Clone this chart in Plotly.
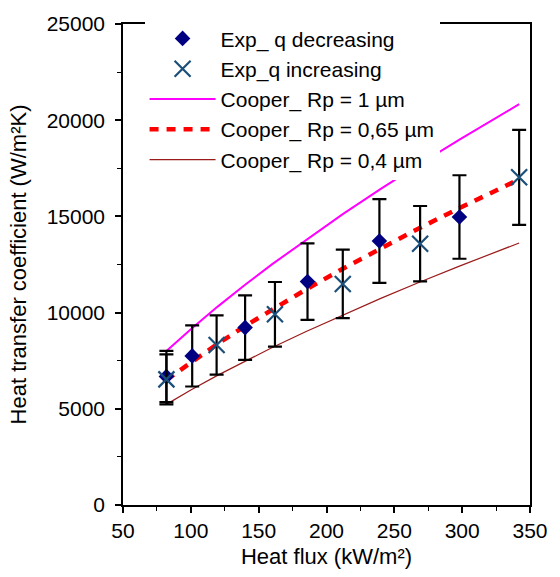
import plotly.graph_objects as go

# Experimental data: heat flux (kW/m²) and heat transfer coefficient (W/m²K)
dec_q = [82, 101, 140, 186, 239, 298]
dec_h = [6680, 7750, 9220, 11610, 13720, 14970]
dec_err = [1330, 1590, 1680, 1990, 2180, 2170]

inc_q = [82, 119, 162, 212, 269, 342]
inc_h = [6530, 8320, 9910, 11490, 13580, 17030]
inc_err = [1300, 1540, 1680, 1780, 1960, 2470]

# Cooper correlation curves
cooper_q = [82, 100, 120, 140, 160, 185, 212, 240, 268, 298, 342]
cooper_rp1 = [8000, 9140, 10325, 11450, 12520, 13790, 15120, 16430, 17690, 18990, 20830]
cooper_rp065 = [6500, 7423, 8389, 9302, 10172, 11206, 12282, 13348, 14373, 15431, 16926]
cooper_rp04 = [5230, 5973, 6750, 7484, 8184, 9017, 9883, 10740, 11565, 12416, 13619]

FONT = "Liberation Sans, Arial, sans-serif"

fig = go.Figure()

fig.add_trace(go.Scatter(
    x=cooper_q, y=cooper_rp1, mode="lines", name="Cooper_ Rp = 1 µm",
    line=dict(color="#FF00FF", width=2), legendrank=3))
fig.add_trace(go.Scatter(
    x=cooper_q, y=cooper_rp065, mode="lines", name="Cooper_ Rp = 0,65 µm",
    line=dict(color="#FF0000", width=4.5, dash="9px,8px"), legendrank=4))
fig.add_trace(go.Scatter(
    x=cooper_q, y=cooper_rp04, mode="lines", name="Cooper_ Rp = 0,4 µm",
    line=dict(color="#9B1B1B", width=1.2), legendrank=5))

fig.add_trace(go.Scatter(
    x=dec_q, y=dec_h, mode="markers", name="Exp_ q decreasing",
    marker=dict(symbol="diamond", size=12, color="#000080"),
    error_y=dict(type="data", array=dec_err, visible=True, color="black",
                 thickness=2.2, width=7),
    legendrank=1))
fig.add_trace(go.Scatter(
    x=inc_q, y=inc_h, mode="markers", name="Exp_q increasing",
    marker=dict(symbol="x-thin-open", size=16, color="#1B4F7A",
                line=dict(width=2.2, color="#1B4F7A")),
    error_y=dict(type="data", array=inc_err, visible=True, color="black",
                 thickness=2.2, width=7),
    legendrank=2))

axis_common = dict(
    showline=True, linecolor="black", linewidth=1.5, mirror=True,
    showgrid=False, zeroline=False, ticks="outside", ticklen=6,
    tickwidth=1.5, tickcolor="black", tickformat="d",
    tickfont=dict(family=FONT, size=21, color="black"),
)

fig.update_xaxes(
    range=[50, 350], dtick=50, tick0=50,
    minor=dict(dtick=25, ticks="outside", ticklen=4, tickcolor="black", tickwidth=1),
    title=dict(text="Heat flux (kW/m²)", font=dict(family=FONT, size=22, color="black"),
               standoff=8),
    **axis_common)
fig.update_yaxes(
    range=[0, 25000], dtick=5000, tick0=0, ticklabelstandoff=6,
    minor=dict(dtick=2500, ticks="outside", ticklen=4, tickcolor="black", tickwidth=1),
    title=dict(text="Heat transfer coefficient (W/m²K)",
               font=dict(family=FONT, size=22, color="black"), standoff=14),
    **axis_common)

fig.update_layout(
    width=560, height=577,
    margin=dict(l=123, r=22, t=19, b=72),
    plot_bgcolor="white", paper_bgcolor="white",
    font=dict(family=FONT, color="black"),
    legend=dict(x=0.053, y=1.012, xanchor="left", yanchor="top",
                bgcolor="white", borderwidth=0, itemwidth=66,
                font=dict(family=FONT, size=21, color="black"),
                traceorder="normal", tracegroupgap=0),
    showlegend=True,
)

fig.write_html("out.html")
